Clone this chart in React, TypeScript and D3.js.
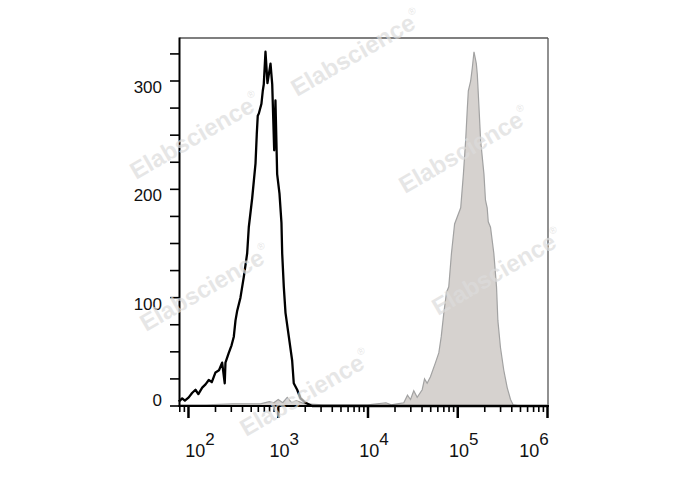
import React from "react";
import * as d3 from "d3";

// Histogram 1 (unstained control, black outline): log10(intensity) vs count
const blackLog = [1.892, 1.93, 1.96, 2.003, 2.04, 2.078, 2.11, 2.153, 2.19, 2.226, 2.26, 2.301, 2.34, 2.375, 2.404, 2.412, 2.449, 2.48, 2.505, 2.524, 2.543, 2.579, 2.616, 2.654, 2.672, 2.71, 2.747, 2.761, 2.772, 2.784, 2.813, 2.828, 2.839, 2.858, 2.88, 2.914, 2.933, 2.955, 2.969, 2.988, 3.014, 3.036, 3.044, 3.062, 3.081, 3.118, 3.155, 3.173, 3.211, 3.248, 3.304, 3.378, 4.0, 5.0, 6.0];
const blackCount = [4, 7, 5, 8, 12, 15, 11, 17, 20, 24, 22, 31, 33, 40, 21, 40, 49, 56, 64, 79, 88, 100, 119, 141, 165, 192, 224, 251, 268, 270, 279, 291, 297, 327, 298, 316, 297, 236, 282, 214, 196, 169, 141, 110, 86, 64, 42, 21, 15, 7, 3, 0, 0, 0, 0];

// Histogram 2 (stained sample, grey filled)
const grayLog = [1.9, 2.2, 2.5, 2.8, 2.9, 2.95, 3.0, 3.05, 3.1, 3.15, 3.2, 3.3, 3.5, 3.8, 4.0, 4.2, 4.26, 4.325, 4.399, 4.44, 4.474, 4.51, 4.548, 4.604, 4.63, 4.659, 4.696, 4.752, 4.789, 4.816, 4.845, 4.875, 4.9, 4.93, 4.965, 5.033, 5.063, 5.088, 5.107, 5.118, 5.144, 5.162, 5.181, 5.207, 5.218, 5.237, 5.255, 5.292, 5.309, 5.328, 5.34, 5.365, 5.402, 5.432, 5.447, 5.476, 5.513, 5.551, 5.588, 5.618, 5.7, 6.0];
const grayCount = [1, 1, 2, 2, 4, 3, 6, 3, 8, 3, 5, 2, 1, 1, 1, 3, 1, 2, 3, 10, 6, 14, 8, 15, 25, 21, 27, 40, 49, 64, 86, 105, 110, 141, 168, 183, 214, 245, 275, 291, 300, 312, 327, 316, 306, 275, 245, 214, 190, 183, 170, 165, 141, 110, 79, 54, 33, 17, 6, 1, 0, 0];

const yTicks = [0, 100, 200, 300];
const yMinorStep = 25;
const xExponents = [2, 3, 4, 5, 6];
const watermarkText = "Elabscience";
const watermarkCenters: [number, number][] = [
  [357, 55], [196, 138], [465, 152], [206, 290], [498, 274], [306, 395],
];

const W = 688, H = 490;
const L = 179.5, R = 547.5, T = 38, B = 406;
const FONT = "'Liberation Sans', Arial, Helvetica, sans-serif";

export default function App() {
  const x = d3.scaleLog().domain([Math.pow(10, 1.9), 1e6]).range([L, R]);
  const y = d3.scaleLinear().domain([0, 300]).range([B, 81]);

  const blackData = blackLog.map((l, i) => [Math.pow(10, l), blackCount[i]] as [number, number]);
  const grayData = grayLog.map((l, i) => [Math.pow(10, l), grayCount[i]] as [number, number]);

  const line = d3.line<[number, number]>().x(d => x(d[0])).y(d => y(d[1]));
  const area = d3.area<[number, number]>().x(d => x(d[0])).y0(y(0)).y1(d => y(d[1]));

  const yMinor = d3.range(0, 325 + 1, yMinorStep);
  const xMinor: number[] = [];
  for (let e = 1; e < 6; e++) {
    for (let m = 2; m <= 9; m++) {
      const v = m * Math.pow(10, e);
      if (v >= Math.pow(10, 1.9) && v <= 1e6) xMinor.push(v);
    }
  }

  return (
    <svg width={W} height={H} style={{ position: "absolute", left: 0, top: 0, background: "#fff" }}>
      <rect x={0} y={0} width={W} height={H} fill="#fff" />
      {/* grey filled histogram */}
      <path d={area(grayData) || ""} fill="#d6d2cf" stroke="none" />
      <path d={line(grayData) || ""} fill="none" stroke="#a2a2a2" strokeWidth={1.2} />
      {/* black outline histogram */}
      <path d={line(blackData) || ""} fill="none" stroke="#000" strokeWidth={2.3} strokeLinejoin="round" />

      {/* frame */}
      <line x1={L} x2={548} y1={T} y2={T} stroke="#555" strokeWidth={1.3} />
      <line x1={548} x2={548} y1={T} y2={B} stroke="#555" strokeWidth={1.3} />
      <line x1={L} x2={L} y1={T - 0.6} y2={B + 1} stroke="#000" strokeWidth={2} />
      <line x1={L - 1} x2={549} y1={B} y2={B} stroke="#000" strokeWidth={2} />

      {/* y ticks */}
      {yMinor.map(v => (
        <line key={"ym" + v} x1={170} x2={L} y1={y(v)} y2={y(v)} stroke="#000" strokeWidth={1.6} />
      ))}
      {yTicks.map(v => (
        <text key={"yl" + v} x={162} y={Math.min(y(v) + 6, 400) + 6} textAnchor="end"
          fontFamily={FONT} fontSize={17} fill="#111">{v}</text>
      ))}

      {/* x ticks */}
      {xMinor.map(v => (
        <line key={"xm" + v} x1={x(v)} x2={x(v)} y1={B} y2={412} stroke="#000" strokeWidth={1.6} />
      ))}
      {xExponents.map(e => (
        <line key={"xM" + e} x1={x(Math.pow(10, e))} x2={x(Math.pow(10, e))} y1={B} y2={418} stroke="#000" strokeWidth={2.5} />
      ))}
      {xExponents.map(e => {
        const cx = Math.max(200, Math.min(534, x(Math.pow(10, e)) + 6));
        return (
          <text key={"xl" + e} x={cx} y={457} textAnchor="middle" fontFamily={FONT} fill="#111">
            <tspan fontSize={18}>10</tspan>
            <tspan fontSize={17} dy={-12}>{e}</tspan>
          </text>
        );
      })}

      {/* watermarks */}
      {watermarkCenters.map(([cx, cy], i) => (
        <text key={"wm" + i} x={cx} y={cy} textAnchor="middle" dominantBaseline="middle"
          transform={`rotate(-30 ${cx} ${cy})`} fontFamily={FONT} fontWeight="bold" fontSize={24}
          fill="#dcdcdc" fillOpacity={0.7}>
          {watermarkText}
          <tspan fontSize={10} dy={-10} fontWeight="normal">®</tspan>
        </text>
      ))}
    </svg>
  );
}
